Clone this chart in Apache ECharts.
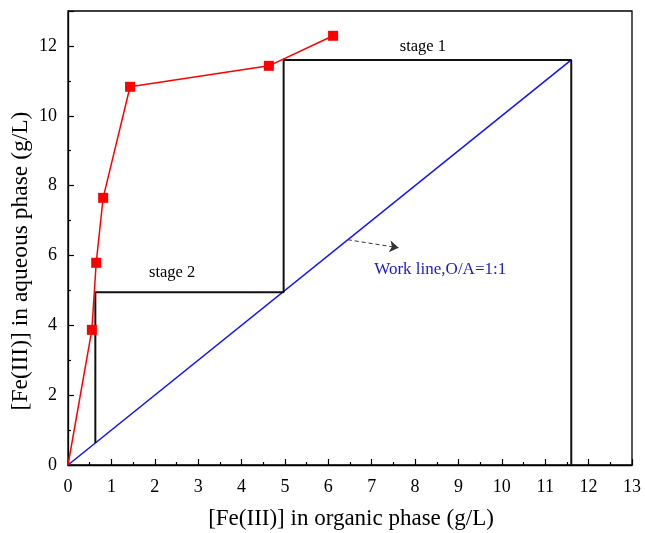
<!DOCTYPE html>
<html>
<head>
<meta charset="utf-8">
<script src="https://cdn.jsdelivr.net/npm/echarts@6/dist/echarts.min.js"></script>
<style>
  html, body { margin: 0; padding: 0; background: #fff; }
  #chart { width: 645px; height: 533px; }
</style>
</head>
<body>
<div id="chart"></div>
<script>
// Extraction isotherm points (organic, aqueous), starting at the origin
const isoOrganic = [0, 0.55, 0.65, 0.81, 1.43, 4.63, 6.11];
const isoAqueous = [0, 3.87, 5.79, 7.65, 10.83, 11.43, 12.29];

// McCabe-Thiele stepping between the isotherm and the operating line
const stepX = [0.63, 0.63, 4.97, 4.97, 11.6, 11.6];
const stepY = [0.63, 4.95, 4.95, 11.6, 11.6, 0];

// Operating line, O/A = 1:1
const workX = [0, 11.6];
const workY = [0, 11.6];

// Annotation texts with their anchor points in data units
const notes = [
  { text: 'stage 1', x: 8.18, y: 11.98, color: '#000', size: 16.5 },
  { text: 'stage 2', x: 2.4, y: 5.52, color: '#000', size: 16.5 },
  { text: 'Work line,O/A=1:1', x: 8.58, y: 5.6, color: '#1a1ac8', size: 17 }
];
const arrowFrom = [6.45, 6.45];
const arrowTo = [7.62, 6.22];

const xTitle = '[Fe(III)] in organic phase (g/L)';
const yTitle = '[Fe(III)] in aqueous phase (g/L)';

const zip = (a, b) => a.map((v, i) => [v, b[i]]);
const font = 'Liberation Serif';

const chart = echarts.init(document.getElementById('chart'));
chart.setOption({
  animation: false,
  backgroundColor: '#fff',
  grid: { left: 68, right: 13, top: 11, bottom: 68, show: true, borderColor: '#000', borderWidth: 1.3, backgroundColor: 'transparent' },
  graphic: [
    {
      type: 'text', x: 351, y: 507,
      style: { text: xTitle, fontFamily: font, fontSize: 23, fill: '#000', align: 'center', verticalAlign: 'top' }
    },
    {
      type: 'text', x: 9, y: 261, rotation: Math.PI / 2,
      style: { text: yTitle, fontFamily: font, fontSize: 23.5, fill: '#000', align: 'center', verticalAlign: 'top' }
    }
  ],
  xAxis: {
    type: 'value', min: 0, max: 13, interval: 1,
    axisLine: { show: true, onZero: false, lineStyle: { color: '#000', width: 1.3 } },
    axisTick: { inside: true, length: 6, lineStyle: { color: '#000', width: 1.2 } },
    minorTick: { show: true, splitNumber: 2, length: 3, lineStyle: { color: '#000', width: 1.2 } },
    axisLabel: { fontFamily: font, fontSize: 18, color: '#000', margin: 13 },
    splitLine: { show: false }
  },
  yAxis: {
    type: 'value', min: 0, max: 13, interval: 2,
    axisLine: { show: true, onZero: false, lineStyle: { color: '#000', width: 1.3 } },
    axisTick: { inside: true, length: 6, lineStyle: { color: '#000', width: 1.2 } },
    minorTick: { show: true, splitNumber: 2, length: 3, lineStyle: { color: '#000', width: 1.2 } },
    axisLabel: { fontFamily: font, fontSize: 18, color: '#000', margin: 11, showMaxLabel: false },
    splitLine: { show: false }
  },
  series: [
    {
      type: 'line', name: 'work',
      data: zip(workX, workY), symbol: 'none',
      lineStyle: { color: '#1010ff', width: 1.5 },
      markLine: {
        silent: true, symbol: ['none', 'arrow'], symbolSize: 9,
        lineStyle: { color: '#333', type: [4, 3], width: 1 },
        itemStyle: { color: '#111' },
        label: { show: false },
        data: [[{ coord: arrowFrom }, { coord: arrowTo }]]
      }
    },
    {
      type: 'line', name: 'steps',
      data: zip(stepX, stepY), symbol: 'none',
      lineStyle: { color: '#111', width: 2 }
    },
    {
      type: 'line', name: 'isotherm',
      data: zip(isoOrganic, isoAqueous).map((p, i) => ({ value: p, symbolSize: i === 0 ? 0 : 10 })),
      symbol: 'rect', symbolSize: 10,
      itemStyle: { color: '#ff0000' },
      lineStyle: { color: '#ff0000', width: 1.5 },
      z: 5
    },
    {
      type: 'scatter', name: 'notes', symbolSize: 0,
      itemStyle: { opacity: 1 },
      data: notes.map(n => ({
        value: [n.x, n.y],
        label: { show: true, position: 'inside', formatter: n.text, color: n.color, fontFamily: font, fontSize: n.size }
      }))
    }
  ]
});
</script>
</body>
</html>
